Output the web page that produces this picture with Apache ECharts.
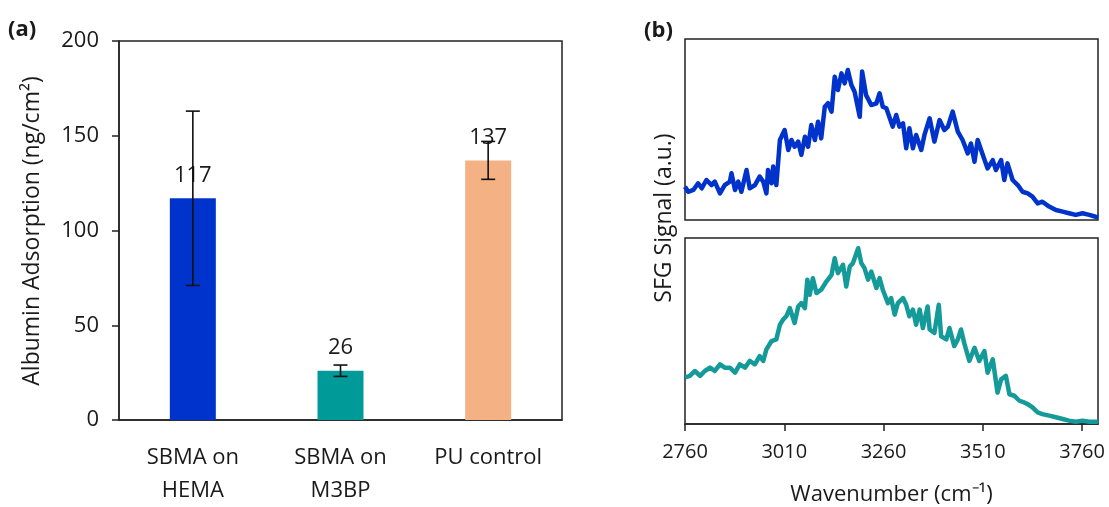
<!DOCTYPE html>
<html>
<head>
<meta charset="utf-8">
<script src="https://cdn.jsdelivr.net/npm/echarts@6/dist/echarts.min.js"></script>
<style>html,body{margin:0;padding:0;background:#fff}#c{width:1109px;height:507px}</style>
</head>
<body>
<div id="c"></div>
<script>
// ---- Panel (a) data ----
const categories = ['SBMA on\nHEMA', 'SBMA on\nM3BP', 'PU control'];
const adsorption = [117, 26, 137];
const adsorptionErr = [46, 3, 10];
const barColors = ['#0033CC', '#009B98', '#F4B183'];

// ---- Panel (b) data: top spectrum (SBMA on HEMA) ----
const wnHEMA = [2760,2768,2781,2793,2802,2814,2827,2835,2848,2860,2873,2877,2886,2894,2902,2915,2923,2936,2948,2957,2965,2969,2978,2982,2990,2999,3011,3020,3028,3036,3045,3053,3062,3070,3078,3087,3095,3103,3112,3120,3129,3137,3145,3154,3162,3170,3179,3187,3200,3206,3216,3229,3242,3250,3258,3267,3283,3292,3300,3309,3317,3325,3334,3342,3355,3363,3376,3388,3401,3413,3422,3434,3447,3459,3472,3480,3489,3497,3510,3522,3535,3543,3556,3564,3572,3585,3598,3610,3623,3635,3648,3660,3677,3694,3711,3727,3744,3761,3778,3794,3800];
const sfgHEMA = [18.4,15.6,16.6,20.3,17.5,22.1,19.3,21.2,14.7,19.3,21.2,25.8,16.6,21.2,15.6,27.6,17.5,19.3,24,21.2,14.7,27.6,20.3,29.5,19.3,44.2,49.7,38.7,44.2,40.5,43.3,36,46,40.5,52.5,44.2,54.3,45.1,62.6,64.5,59.9,79.2,71.8,81,75.5,82.9,74.6,70.9,57,82,69,63.5,64.5,70,62.6,61.7,51.6,58,51.6,53.4,39.6,50.7,39.6,47,38.7,47,56.2,43.3,55.2,49.7,51.6,59.9,48.8,44.2,36.8,42.3,32.2,44.2,35.9,28.5,33.1,27.6,33.1,22.1,31.3,22.1,19.3,15.6,14.7,12.9,9.2,10.1,7.4,5.5,4.6,3.7,2.8,3.7,2.8,1.8,1.5];

// ---- Panel (b) data: bottom spectrum (SBMA on M3BP) ----
const wnM3BP = [2760,2772,2785,2798,2810,2823,2835,2848,2860,2873,2886,2898,2911,2923,2936,2948,2957,2965,2978,2990,2999,3007,3015,3024,3036,3045,3053,3062,3068,3074,3082,3091,3103,3116,3129,3137,3145,3158,3166,3175,3183,3196,3204,3212,3221,3229,3242,3250,3258,3271,3279,3288,3296,3309,3317,3325,3334,3342,3351,3359,3371,3376,3388,3399,3405,3418,3426,3438,3447,3455,3464,3476,3489,3501,3514,3522,3535,3547,3556,3568,3577,3589,3602,3614,3623,3635,3648,3660,3677,3694,3711,3727,3744,3761,3778,3794,3800];
const sfgM3BP = [25,25.9,28.5,25.9,28.5,30.3,28.5,32.1,30.3,30.3,27.6,32.1,30.3,33.9,32.1,36.5,33.9,40.1,44.6,45.5,53.4,56.1,57.9,62.3,54.3,63.2,65,62.3,77.6,69.5,78.4,70.4,72.2,76.6,80.2,89.1,81.1,85.6,73.9,84.7,86.5,94.5,86.5,83.8,77.6,82,73.1,78.4,72.2,65,67.7,58.8,65,67.7,64.1,57.9,61.5,53.4,61.5,51.6,63.2,50.8,49,64.1,47.2,45.5,51.6,41.9,45.5,50.8,42.8,33.9,41,33.9,39.2,27.6,34.8,16.9,24,25.9,16,15.2,12.5,11.6,10.7,8.9,6.2,5.3,4.5,3.6,2.7,1.8,1.2,1.8,1.2,1.2,1.2];

const wnMin = 2760, wnMax = 3800, wnStep = 250;
const lineBlue = '#0033CC', lineTeal = '#139A99';

const FONT = 'Open Sans';
const TXT = '#1a1a1a';
const chart = echarts.init(document.getElementById('c'), null, {renderer: 'canvas'});

const errData = adsorption.map((v, i) => [i, v - adsorptionErr[i], v + adsorptionErr[i]]);

chart.setOption({
  animation: false,
  backgroundColor: '#fff',
  textStyle: {fontFamily: FONT, color: TXT},
  grid: [
    {left: 119, top: 41, width: 443, height: 383, show: true, borderColor: '#222', borderWidth: 1.5, backgroundColor: 'transparent'},
    {left: 685, top: 39, width: 413, height: 181, show: true, borderColor: '#222', borderWidth: 1.5, backgroundColor: 'transparent'},
    {left: 685, top: 238, width: 413, height: 187, show: true, borderColor: '#222', borderWidth: 1.5, backgroundColor: 'transparent'}
  ],
  xAxis: [
    {gridIndex: 0, type: 'category', data: categories,
     axisLine: {lineStyle: {color: '#222', width: 1.5}}, axisTick: {show: false},
     axisLabel: {fontFamily: FONT, fontSize: 22, color: TXT, margin: 21, lineHeight: 33, interval: 0}},
    {gridIndex: 1, type: 'value', min: wnMin, max: wnMax, interval: wnStep, show: false},
    {gridIndex: 2, type: 'value', min: wnMin, max: wnMax, interval: wnStep,
     axisLine: {lineStyle: {color: '#222', width: 1.5}},
     axisTick: {show: true, inside: false, length: 7, lineStyle: {color: '#222', width: 1.5}},
     axisLabel: {fontFamily: FONT, fontSize: 20, color: TXT, margin: 18, showMaxLabel: false,
                 formatter: v => String(v)},
     splitLine: {show: false},
     name: 'Wavenumber (cm\u207B\u00B9)', nameLocation: 'middle', nameGap: 60,
     nameTextStyle: {fontFamily: FONT, fontSize: 22, color: TXT}}
  ],
  yAxis: [
    {gridIndex: 0, type: 'value', min: 0, max: 200, interval: 50,
     axisLine: {show: true, lineStyle: {color: '#222', width: 1.5}},
     axisTick: {show: true, inside: false, length: 7, lineStyle: {color: '#222', width: 1.5}},
     axisLabel: {fontFamily: FONT, fontSize: 22, color: TXT, margin: 20},
     splitLine: {show: false}},
    {gridIndex: 1, type: 'value', min: 0, max: 100, show: false},
    {gridIndex: 2, type: 'value', min: 0, max: 100, show: false}
  ],
  graphic: [
    {type: 'text', x: 8, y: 30, style: {text: '(a)', font: 'bold 22px "Open Sans"', fill: TXT, textVerticalAlign: 'middle'}},
    {type: 'text', x: 644, y: 31, style: {text: '(b)', font: 'bold 22px "Open Sans"', fill: TXT, textVerticalAlign: 'middle'}},
    {type: 'text', x: 32, y: 231, rotation: Math.PI / 2,
     style: {text: 'Albumin Adsorption (ng/cm\u00B2)', font: '23px "Open Sans"', fill: TXT, textAlign: 'center', textVerticalAlign: 'middle'}},
    {type: 'text', x: 664, y: 218, rotation: Math.PI / 2,
     style: {text: 'SFG Signal (a.u.)', font: '23px "Open Sans"', fill: TXT, textAlign: 'center', textVerticalAlign: 'middle'}}
  ],
  series: [
    {type: 'bar', xAxisIndex: 0, yAxisIndex: 0, barWidth: 46,
     data: adsorption.map((v, i) => ({value: v, itemStyle: {color: barColors[i]}})),
     label: {show: true, position: 'top', distance: 12, fontFamily: FONT, fontSize: 22, color: TXT}},
    {type: 'custom', xAxisIndex: 0, yAxisIndex: 0, z: 5, data: errData,
     renderItem: function (params, api) {
       const x = api.value(0);
       const lo = api.coord([x, api.value(1)]);
       const hi = api.coord([x, api.value(2)]);
       const h = 7;
       const st = {stroke: '#111', lineWidth: 1.6};
       return {type: 'group', children: [
         {type: 'line', shape: {x1: lo[0], y1: lo[1], x2: hi[0], y2: hi[1]}, style: st},
         {type: 'line', shape: {x1: hi[0] - h, y1: hi[1], x2: hi[0] + h, y2: hi[1]}, style: st},
         {type: 'line', shape: {x1: lo[0] - h, y1: lo[1], x2: lo[0] + h, y2: lo[1]}, style: st}
       ]};
     }},
    {type: 'line', xAxisIndex: 1, yAxisIndex: 1, showSymbol: false, symbol: 'none',
     data: wnHEMA.map((w, i) => [w, sfgHEMA[i]]),
     lineStyle: {color: lineBlue, width: 4.5, join: 'round'}},
    {type: 'line', xAxisIndex: 2, yAxisIndex: 2, showSymbol: false, symbol: 'none',
     data: wnM3BP.map((w, i) => [w, sfgM3BP[i]]),
     lineStyle: {color: lineTeal, width: 4.5, join: 'round'}}
  ]
});
</script>
</body>
</html>
